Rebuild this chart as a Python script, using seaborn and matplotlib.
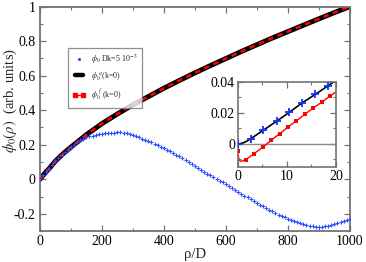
import numpy as np
import pandas as pd
import seaborn as sns
import matplotlib.pyplot as plt
from matplotlib.lines import Line2D
from matplotlib.legend_handler import HandlerLine2D
from matplotlib.ticker import MultipleLocator

# main panel: phi_0 with Dk = 5e-3 (blue markers), every 10 in rho/D
rho_dk = np.arange(0, 1001, 10)
phi_dk = [0.0, 0.022, 0.043, 0.062, 0.083, 0.105, 0.123, 0.140, 0.156, 0.171,
          0.186, 0.200, 0.213, 0.225, 0.236, 0.244, 0.249, 0.253, 0.257, 0.260,
          0.263, 0.265, 0.267, 0.269, 0.270, 0.271, 0.271, 0.269, 0.266, 0.262,
          0.256, 0.250, 0.242, 0.236, 0.229, 0.222, 0.214, 0.206, 0.197, 0.188,
          0.179, 0.170, 0.161, 0.152, 0.142, 0.132, 0.122, 0.111, 0.100, 0.088,
          0.076, 0.064, 0.053, 0.042, 0.032, 0.022, 0.012, 0.002, -0.008, -0.017,
          -0.028, -0.039, -0.050, -0.061, -0.072, -0.083, -0.094, -0.105, -0.116, -0.126,
          -0.137, -0.147, -0.157, -0.167, -0.177, -0.186, -0.195, -0.204, -0.213, -0.221,
          -0.229, -0.236, -0.243, -0.249, -0.255, -0.260, -0.265, -0.269, -0.273, -0.275,
          -0.275, -0.274, -0.272, -0.269, -0.265, -0.261, -0.256, -0.250, -0.244, -0.238,
          -0.230]

# main panel: phi_0^a(k=0) (black) and phi_0^f(k=0) (red), they overlap
rho_k0 = [0, 10, 20, 30, 50, 75, 100, 150, 200, 250, 300, 350, 400, 450, 500,
          550, 600, 650, 700, 750, 800, 850, 900, 950, 1000]
phi_a = [0.0, 0.022, 0.043, 0.062, 0.105, 0.148, 0.186, 0.258, 0.322, 0.378, 0.431,
         0.479, 0.527, 0.572, 0.616, 0.658, 0.699, 0.740, 0.779, 0.818, 0.855,
         0.892, 0.929, 0.965, 1.0]
phi_f = phi_a

# inset: small rho/D
ins_rho_dk = [0, 2.6, 5.2, 7.9, 10.5, 13.1, 15.8, 18.4]
ins_phi_dk = [0.0, 0.0032, 0.0088, 0.0146, 0.0204, 0.0265, 0.032, 0.0376]
ins_rho_a = [0, 0.5, 1, 1.5, 2, 2.6, 5.2, 7.9, 10.5, 13.1, 15.8, 18.4, 20]
ins_phi_a = [0.0, 0.0001, 0.0005, 0.0012, 0.002, 0.0032, 0.0088, 0.0146, 0.0204,
             0.0265, 0.032, 0.0376, 0.041]
ins_rho_f = [0, 0.1, 0.25, 0.5, 0.8, 1.2, 1.57, 3.28, 5.07, 6.78, 8.5, 10.2, 11.9,
             13.6, 15.3, 17.1, 18.8, 20]
ins_phi_f = [-0.0047, -0.008, -0.0105, -0.0113, -0.0112, -0.0108, -0.0103, -0.0065,
             -0.0022, 0.0022, 0.0065, 0.0108, 0.0148, 0.019, 0.023, 0.0269, 0.031, 0.0336]
ins_rho_f_mk = [0, 1.57, 3.28, 5.07, 6.78, 8.5, 10.2, 11.9, 13.6, 15.3, 17.1, 18.8]
ins_phi_f_mk = [-0.0047, -0.0103, -0.0065, -0.0022, 0.0022, 0.0065, 0.0108, 0.0148,
                0.019, 0.023, 0.0269, 0.031]

sns.set_style('ticks')
plt.rcParams['font.family'] = ['Liberation Serif', 'DejaVu Serif']
plt.rcParams['mathtext.fontset'] = 'stix'

BLUE = '#2f4dff'
FRAME = '0.45'

fig = plt.figure(figsize=(3.66, 2.62), dpi=100)
ax = fig.add_axes([0.109, 0.118, 0.847, 0.857])

main_dk = pd.DataFrame({'rho': rho_dk, 'phi': phi_dk})
main_k0 = pd.DataFrame({'rho': rho_k0, 'a': phi_a, 'f': phi_f})

sns.lineplot(data=main_k0, x='rho', y='a', color='black', lw=3.6, ax=ax, sort=False)
ax.plot(main_k0['rho'], main_k0['f'], color='red', lw=1.8, dashes=(2.2, 1.8))
sns.scatterplot(data=main_dk, x='rho', y='phi', marker='+', s=8, color=BLUE,
                linewidth=0.8, ax=ax, zorder=3)

ax.set_xlim(0, 1000)
ax.set_ylim(-0.3, 1.0)
ax.xaxis.set_major_locator(MultipleLocator(200))
ax.xaxis.set_minor_locator(MultipleLocator(100))
ax.yaxis.set_minor_locator(MultipleLocator(0.1))
ax.set_yticks([-0.2, 0, 0.2, 0.4, 0.6, 0.8, 1.0])
ax.set_yticklabels(['-0.2', '0', '0.2', '0.4', '0.6', '0.8', '1'])
ax.tick_params(which='both', direction='in', top=True, right=True, colors=FRAME,
               labelcolor='black', labelsize=10, pad=3)
ax.tick_params(which='major', length=4.5, width=0.9)
ax.tick_params(which='minor', length=2.5, width=0.8)
for s in ax.spines.values():
    s.set_color(FRAME)
    s.set_linewidth(1.3)
ax.set_xlabel('ρ/D', fontsize=10.5, labelpad=0)
ax.set_ylabel(r'$\phi_0(\rho)$  (arb. units)', fontsize=10.5)
ax.yaxis.set_label_coords(-0.068, 0.58)

h_dk = Line2D([], [], ls='none', marker='.', ms=2.5, color=BLUE)
h_a = Line2D([], [], color='black', lw=3.2)
h_f = Line2D([], [], color='red', lw=0.9, marker='s', ms=2.2)
leg = ax.legend([h_dk, h_a, h_f],
                [r'$\phi_0$ Dk=5 10$^{-3}$', r'$\phi_0^{\ a}$(k=0)', r'$\phi_0^{\ f}$ (k=0)'],
                handler_map={h_dk: HandlerLine2D(numpoints=1)}, numpoints=2,
                loc='upper left', bbox_to_anchor=(68 / 366, 1 - 48 / 262),
                bbox_transform=fig.transFigure, fontsize=5.8, frameon=True,
                fancybox=False, handlelength=1.6, handletextpad=0.6,
                borderpad=0.6, labelspacing=0.45, borderaxespad=0)
leg.get_frame().set_edgecolor(FRAME)
leg.get_frame().set_linewidth(0.9)

# inset
ins = fig.add_axes([0.650, 0.363, 0.268, 0.324])
ins.axhline(0, color='0.55', lw=1)
sns.lineplot(x=ins_rho_a, y=ins_phi_a, color='black', lw=1.2, ax=ins, sort=False)
sns.scatterplot(x=ins_rho_dk, y=ins_phi_dk, marker='+', s=30, color='#1030ff',
                linewidth=1.3, ax=ins, zorder=4)
sns.lineplot(x=ins_rho_f, y=ins_phi_f, color='red', lw=1.0, ax=ins, sort=False)
sns.scatterplot(x=ins_rho_f_mk, y=ins_phi_f_mk, marker='s', s=8, color='red',
                linewidth=0, ax=ins, zorder=3)
ins.set_xlim(0, 20)
ins.set_ylim(-0.015, 0.04)
ins.set_xticks([0, 10, 20])
ins.xaxis.set_minor_locator(MultipleLocator(5))
ins.set_yticks([0, 0.02, 0.04])
ins.set_yticklabels(['0', '0.02', '0.04'])
ins.yaxis.set_minor_locator(MultipleLocator(0.01))
ins.tick_params(which='both', direction='in', top=True, right=True, colors=FRAME,
                labelcolor='black', labelsize=10, pad=2)
ins.tick_params(which='major', length=4, width=0.9)
ins.tick_params(which='minor', length=2.2, width=0.8)
for s in ins.spines.values():
    s.set_color(FRAME)
    s.set_linewidth(1.2)
ins.set_xlabel('')
ins.set_ylabel('')

fig.savefig('out.png', dpi=100)
